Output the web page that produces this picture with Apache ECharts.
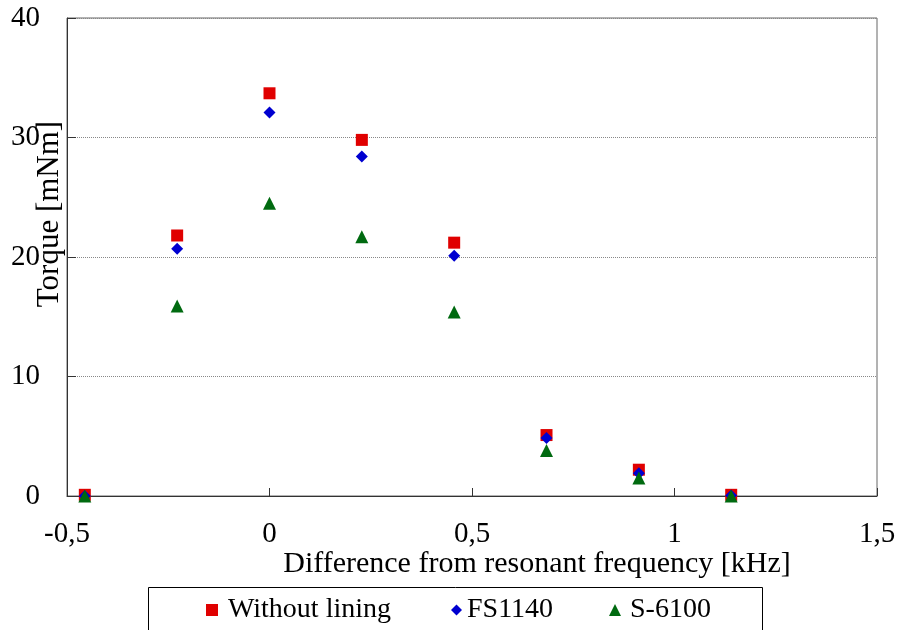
<!DOCTYPE html>
<html>
<head>
<meta charset="utf-8">
<script src="https://cdn.jsdelivr.net/npm/echarts@6/dist/echarts.min.js"></script>
<style>
html, body { margin: 0; padding: 0; background: #fff; }
#main { width: 898px; height: 630px; }
</style>
</head>
<body>
<div id="main"></div>
<script>
// frequency offsets [kHz]
var freq = [-0.456, -0.228, 0, 0.228, 0.456, 0.684, 0.912, 1.14];
// torque [mNm]
var withoutLining = [0.1, 21.8, 33.7, 29.8, 21.2, 5.1, 2.2, 0.1];
var fs1140 = [0, 20.7, 32.1, 28.4, 20.1, 4.85, 1.9, 0.05];
var s6100 = [0, 15.9, 24.5, 21.7, 15.4, 3.8, 1.5, 0];

function pairs(xs, ys) {
    var res = [];
    for (var i = 0; i < xs.length; i++) res.push([xs[i], ys[i]]);
    return res;
}

var font = 'Liberation Serif';
var chart = echarts.init(document.getElementById('main'));

var legendBase = {
    top: 596,
    padding: 0,
    itemWidth: 12,
    itemHeight: 12,
    itemGap: 10,
    textStyle: { fontFamily: font, fontSize: 28, color: '#000' }
};

var option = {
    animation: false,
    backgroundColor: '#fff',
    grid: {
        left: 67, right: 21, top: 18, bottom: 134,
        outerBoundsMode: 'none',
        containLabel: false,
        show: true,
        borderColor: '#666',
        borderWidth: 1
    },
    graphic: [{
        type: 'rect',
        shape: { x: 148.5, y: 587.5, width: 614, height: 60 },
        style: { fill: 'none', stroke: '#000', lineWidth: 1 }
    }],
    legend: [
        Object.assign({}, legendBase, { left: 206, data: [{ name: 'Without lining', icon: 'rect' }], textStyle: Object.assign({}, legendBase.textStyle, { padding: [0, 0, 0, 5] }) }),
        Object.assign({}, legendBase, { left: 451, itemWidth: 11, itemHeight: 11, data: [{ name: 'FS1140', icon: 'diamond' }] }),
        Object.assign({}, legendBase, { left: 609, data: [{ name: 'S-6100', icon: 'triangle' }], textStyle: Object.assign({}, legendBase.textStyle, { padding: [0, 0, 0, 4] }) })
    ],
    xAxis: {
        type: 'value',
        min: -0.5, max: 1.5, interval: 0.5,
        name: 'Difference from resonant frequency [kHz]',
        nameLocation: 'middle',
        nameGap: 53,
        nameMoveOverlap: false,
        nameTextStyle: { fontFamily: font, fontSize: 30, color: '#000', padding: [0, 0, 0, 130] },
        axisLine: { onZero: false, lineStyle: { color: '#333', width: 1 } },
        axisTick: { inside: true, length: 8, lineStyle: { color: '#333' } },
        axisLabel: {
            fontFamily: font, fontSize: 29, color: '#000', margin: 24,
            formatter: function (v) { return String(v).replace('.', ','); }
        },
        splitLine: { show: false }
    },
    yAxis: {
        type: 'value',
        min: 0, max: 40, interval: 10,
        name: 'Torque [mNm]',
        nameLocation: 'middle',
        nameGap: 2,
        nameMoveOverlap: false,
        nameTextStyle: { fontFamily: font, fontSize: 31, color: '#000', padding: [0, 0, 0, 86] },
        axisLine: { show: true, onZero: false, lineStyle: { color: '#333', width: 1 } },
        axisTick: { show: true, inside: true, length: 9, lineStyle: { color: '#333' } },
        axisLabel: { fontFamily: font, fontSize: 29, color: '#000', margin: 27 },
        splitLine: { show: true, lineStyle: { color: '#888', type: 'dotted', width: 1 } }
    },
    series: [
        {
            name: 'Without lining',
            type: 'scatter',
            symbol: 'rect',
            symbolSize: 12,
            itemStyle: { color: '#e00000', opacity: 1 },
            data: pairs(freq, withoutLining)
        },
        {
            name: 'FS1140',
            type: 'scatter',
            symbol: 'diamond',
            symbolSize: 12,
            itemStyle: { color: '#0000d0', opacity: 1 },
            data: pairs(freq, fs1140)
        },
        {
            name: 'S-6100',
            type: 'scatter',
            symbol: 'triangle',
            symbolSize: 13,
            itemStyle: { color: '#006a10', opacity: 1 },
            data: pairs(freq, s6100)
        }
    ]
};

chart.setOption(option);
</script>
</body>
</html>
